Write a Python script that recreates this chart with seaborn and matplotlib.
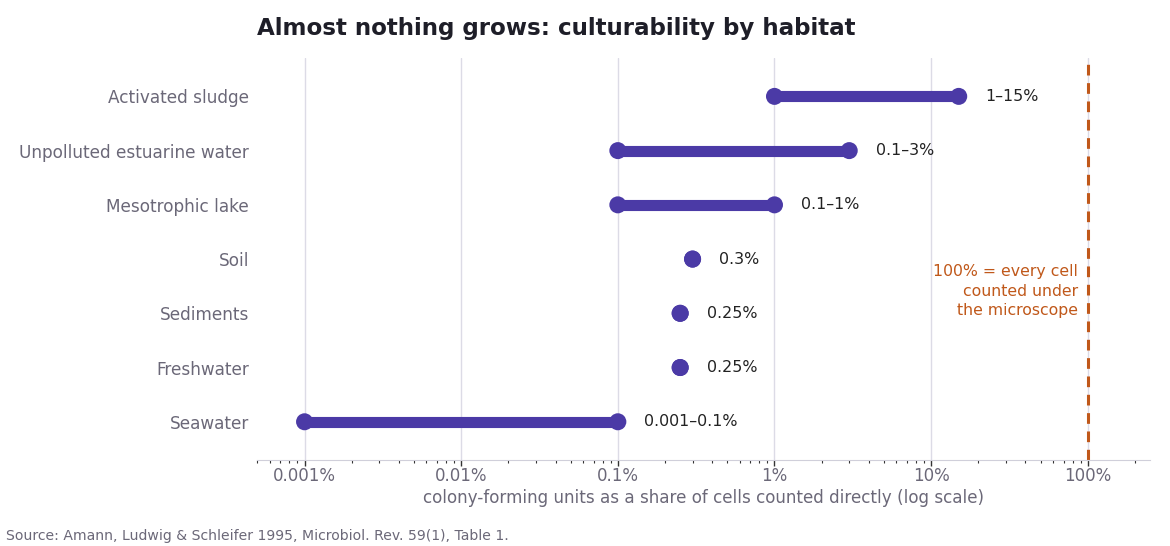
import matplotlib
matplotlib.use("Agg")
import matplotlib.pyplot as plt
import matplotlib.ticker as mticker
import numpy as np
import pandas as pd
import seaborn as sns

habitats = [
    'Activated sludge',
    'Unpolluted estuarine water',
    'Mesotrophic lake',
    'Soil',
    'Sediments',
    'Freshwater',
    'Seawater',
]
low_pct = [1, 0.1, 0.1, 0.3, 0.25, 0.25, 0.001]
high_pct = [15, 3, 1, 0.3, 0.25, 0.25, 0.1]
range_labels = ['1–15%', '0.1–3%', '0.1–1%', '0.3%', '0.25%', '0.25%', '0.001–0.1%']

tick_vals = [0.001, 0.01, 0.1, 1, 10, 100]
tick_labels = ['0.001%', '0.01%', '0.1%', '1%', '10%', '100%']

purple = '#4b3aa6'
orange = '#c0581a'
grey_text = '#6b6878'

df = pd.DataFrame({'habitat': habitats, 'low': low_pct, 'high': high_pct, 'label': range_labels})
long_df = df.melt(id_vars=['habitat'], value_vars=['low', 'high'], value_name='pct')

sns.set_style('white')
plt.rcParams['font.family'] = ['DejaVu Sans']

fig, ax = plt.subplots(figsize=(11.7, 5.46), dpi=100)
fig.subplots_adjust(left=0.22, right=0.983, top=0.893, bottom=0.158)

ax.set_xscale('log')
ax.set_xlim(5e-4, 250)

for i, row in df.iterrows():
    if row['low'] != row['high']:
        ax.plot([row['low'], row['high']], [i, i], color=purple, lw=8, solid_capstyle='round', zorder=3)

sns.scatterplot(data=long_df, x='pct', y='habitat', color=purple, s=150, edgecolor='none',
                zorder=4, ax=ax, legend=False)

for i, row in df.iterrows():
    ax.annotate(row['label'], (row['high'], i), xytext=(19, 0), textcoords='offset points',
                va='center', ha='left', fontsize=11.4, color='#222222')

ax.axvline(100, color=orange, lw=2.2, ls=(0, (3.5, 2.5)), zorder=2)
ax.text(0.87 * 100, 3.59, '100% = every cell\ncounted under\nthe microscope', color=orange,
        fontsize=11.3, ha='right', va='center', linespacing=1.35)

ax.set_ylim(6.7, -0.7)
ax.set_xticks(tick_vals)
ax.set_xticklabels(tick_labels)
ax.xaxis.set_minor_locator(mticker.LogLocator(base=10, subs=np.arange(2, 10)))
ax.xaxis.set_minor_formatter(mticker.NullFormatter())
ax.tick_params(axis='x', which='both', bottom=True, color='#333333')
ax.tick_params(axis='x', which='major', length=4, width=1, pad=1, labelsize=12, labelcolor=grey_text)
ax.tick_params(axis='x', which='minor', length=2.5, width=0.8)
ax.tick_params(axis='y', length=0, labelsize=12.2, labelcolor=grey_text, pad=6)

ax.grid(axis='x', which='major', color='#dcdbe6', lw=1)
ax.set_axisbelow(True)
for s in ['top', 'right', 'left']:
    ax.spines[s].set_visible(False)
ax.spines['bottom'].set_color('#d0cfda')

ax.set_ylabel('')
ax.set_xlabel('colony-forming units as a share of cells counted directly (log scale)',
              fontsize=12.1, color=grey_text, labelpad=3)
ax.set_title('Almost nothing grows: culturability by habitat', fontsize=16.6, fontweight='bold',
             color='#1e1e28', loc='left', pad=17)

fig.text(0.005, 0.011, 'Source: Amann, Ludwig & Schleifer 1995, Microbiol. Rev. 59(1), Table 1.',
         fontsize=10.1, color=grey_text)

fig.savefig('out.png', dpi=100)
